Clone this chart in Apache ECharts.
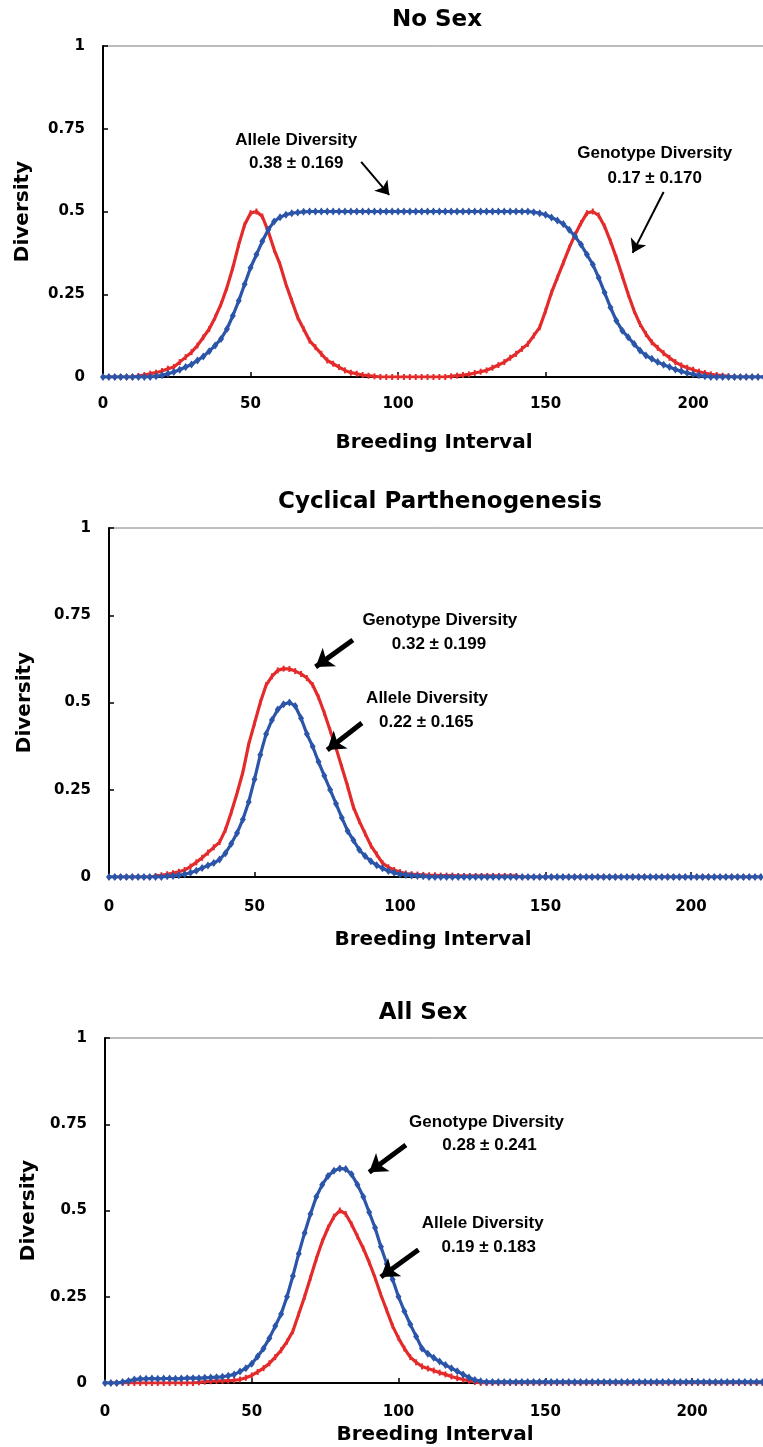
<!DOCTYPE html>
<html><head><meta charset="utf-8">
<script src="https://cdn.jsdelivr.net/npm/echarts@6/dist/echarts.min.js"></script>
<style>html,body{margin:0;padding:0;background:#fff;overflow:hidden}#c{width:763px;height:1447px}</style>
</head><body><div id="c"></div>
<script>
// ---------- DATA ----------
const xValues = [
  0,2,4,6,8,10,12,14,16,18,
  20,22,24,26,28,30,32,34,36,38,
  40,42,44,46,48,50,52,54,56,58,
  60,62,64,66,68,70,72,74,76,78,
  80,82,84,86,88,90,92,94,96,98,
  100,102,104,106,108,110,112,114,116,118,
  120,122,124,126,128,130,132,134,136,138,
  140,142,144,146,148,150,152,154,156,158,
  160,162,164,166,168,170,172,174,176,178,
  180,182,184,186,188,190,192,194,196,198,
  200,202,204,206,208,210,212,214,216,218,
  220,222,224
];
const panelTitles = ['No Sex', 'Cyclical Parthenogenesis', 'All Sex'];
const xTickValues = [0, 50, 100, 150, 200];
const yTickValues = [0, 0.25, 0.5, 0.75, 1];
const xAxisTitle = 'Breeding Interval';
const yAxisTitle = 'Diversity';

// No Sex
const noSexGenotype = [
  0,0,0,0,0,0,0.003,0.006,0.01,0.013,
  0.018,0.025,0.03,0.045,0.06,0.075,0.095,0.12,0.145,0.18,
  0.22,0.27,0.33,0.4,0.46,0.495,0.5,0.485,0.44,0.385,
  0.34,0.28,0.23,0.18,0.145,0.11,0.09,0.07,0.05,0.04,
  0.03,0.02,0.013,0.01,0.006,0.004,0.002,0,0,0,
  0,0,0,0,0,0,0,0,0,0.002,
  0.004,0.006,0.008,0.012,0.016,0.02,0.028,0.036,0.045,0.058,
  0.07,0.085,0.1,0.125,0.15,0.2,0.255,0.3,0.345,0.39,
  0.43,0.465,0.495,0.5,0.488,0.455,0.41,0.36,0.305,0.25,
  0.2,0.16,0.13,0.105,0.088,0.072,0.058,0.045,0.035,0.028,
  0.022,0.016,0.012,0.008,0.006,0.004,0.002,0,0,0,
  0,0,0
];
const noSexAllele = [
  0,0,0,0,0,0,0,0,0,0.002,
  0.005,0.01,0.015,0.022,0.03,0.038,0.05,0.062,0.078,0.095,
  0.115,0.145,0.185,0.23,0.28,0.33,0.37,0.41,0.445,0.47,
  0.483,0.49,0.495,0.497,0.499,0.5,0.5,0.5,0.5,0.5,
  0.5,0.5,0.5,0.5,0.5,0.5,0.5,0.5,0.5,0.5,
  0.5,0.5,0.5,0.5,0.5,0.5,0.5,0.5,0.5,0.5,
  0.5,0.5,0.5,0.5,0.5,0.5,0.5,0.5,0.5,0.5,
  0.5,0.5,0.5,0.498,0.495,0.49,0.482,0.473,0.462,0.445,
  0.425,0.4,0.37,0.34,0.3,0.255,0.21,0.17,0.14,0.12,
  0.1,0.08,0.065,0.055,0.045,0.037,0.03,0.023,0.017,0.012,
  0.008,0.005,0.002,0,0,0,0,0,0,0,
  0,0,0
];
// Cyclical Parthenogenesis
const cpGenotype = [
  0,0,0,0,0,0,0,0,0.003,0.005,
  0.008,0.011,0.015,0.02,0.03,0.042,0.055,0.07,0.085,0.1,
  0.135,0.185,0.24,0.3,0.38,0.44,0.5,0.55,0.575,0.592,
  0.597,0.596,0.59,0.582,0.57,0.55,0.515,0.47,0.42,0.37,
  0.315,0.26,0.2,0.16,0.125,0.09,0.065,0.04,0.028,0.02,
  0.014,0.01,0.008,0.007,0.006,0.005,0.005,0.004,0.004,0.004,
  0.003,0.003,0.003,0.003,0.003,0.003,0.003,0.003,0.003,0.003,
  0.003,0,0,0,0,0,0,0,0,0,
  0,0,0,0,0,0,0,0,0,0,
  0,0,0,0,0,0,0,0,0,0,
  0,0,0,0,0,0,0,0,0,0,
  0,0,0
];
const cpAllele = [
  0,0,0,0,0,0,0,0,0,0,
  0.002,0.003,0.005,0.008,0.012,0.018,0.026,0.033,0.04,0.05,
  0.068,0.095,0.126,0.165,0.215,0.28,0.35,0.41,0.45,0.48,
  0.495,0.5,0.49,0.455,0.41,0.374,0.33,0.29,0.25,0.21,
  0.17,0.132,0.105,0.078,0.06,0.045,0.034,0.025,0.017,0.012,
  0.008,0.006,0.004,0.003,0.002,0,0,0,0,0,
  0,0,0,0,0,0,0,0,0,0,
  0,0,0,0,0,0,0,0,0,0,
  0,0,0,0,0,0,0,0,0,0,
  0,0,0,0,0,0,0,0,0,0,
  0,0,0,0,0,0,0,0,0,0,
  0,0,0
];
// All Sex
const allSexGenotype = [
  0,0,0,0.003,0.006,0.01,0.012,0.012,0.013,0.012,
  0.013,0.013,0.012,0.013,0.014,0.014,0.014,0.015,0.016,0.017,
  0.018,0.021,0.025,0.033,0.043,0.056,0.077,0.1,0.13,0.165,
  0.2,0.25,0.31,0.375,0.435,0.49,0.54,0.575,0.6,0.615,
  0.622,0.62,0.605,0.575,0.54,0.495,0.45,0.395,0.345,0.3,
  0.25,0.208,0.17,0.135,0.1,0.085,0.073,0.062,0.052,0.043,
  0.034,0.025,0.016,0.009,0.005,0.003,0.003,0.003,0.003,0.003,
  0.003,0.003,0.003,0.003,0.003,0.003,0.003,0.003,0.003,0.003,
  0.003,0.003,0.003,0.003,0.003,0.003,0.003,0.003,0.003,0.003,
  0.003,0.003,0.003,0.003,0.003,0.003,0.003,0.003,0.003,0.003,
  0.003,0.003,0.003,0.003,0.003,0.003,0.003,0.003,0.003,0.003,
  0.003,0.003,0.003
];
const allSexAllele = [
  0,0,0,0,0,0,0,0,0,0,
  0,0,0,0,0,0,0.002,0.004,0.005,0.006,
  0.006,0.007,0.008,0.01,0.015,0.022,0.032,0.043,0.057,0.075,
  0.095,0.12,0.15,0.2,0.25,0.305,0.36,0.41,0.45,0.482,
  0.5,0.49,0.46,0.425,0.39,0.35,0.305,0.255,0.21,0.165,
  0.13,0.1,0.075,0.06,0.048,0.042,0.036,0.03,0.025,0.019,
  0.014,0.01,0.007,0.003,0,0,0,0,0,0,
  0,0,0,0,0,0,0,0,0,0,
  0,0,0,0,0,0,0,0,0,0,
  0,0,0,0,0,0,0,0,0,0,
  0,0,0,0,0,0,0,0,0,0,
  0,0,0
];

// ---------- LAYOUT / STYLE ----------
const RED = '#e42b2b', BLUE = '#2b55a8';
const panels = [
  { left:103, top:46, height:331, width:668, xMax:226.4, labelMargin:20, titleX:437, titleY:20, xNameX:434, xNameY:443, yNameX:23,
    red:{name:'Genotype Diversity', data:noSexGenotype}, blue:{name:'Allele Diversity', data:noSexAllele},
    arrowWidth:2, arrowSize:13,
    notes:[
      {x:65.5, y:0.716, text:'Allele Diversity'}, {x:65.5, y:0.647, text:'0.38 ± 0.169'},
      {x:187, y:0.677, text:'Genotype Diversity'}, {x:187, y:0.601, text:'0.17 ± 0.170'} ],
    arrows:[ [[87.5,0.65],[97,0.55]], [[190,0.559],[179.5,0.375]] ] },
  { left:109, top:528, height:349, width:662, xMax:227.5, labelMargin:23, titleX:440, titleY:502, xNameX:433, xNameY:940, yNameX:25,
    red:{name:'Genotype Diversity', data:cpGenotype}, blue:{name:'Allele Diversity', data:cpAllele},
    arrowWidth:5, arrowSize:17,
    notes:[
      {x:113.7, y:0.736, text:'Genotype Diversity'}, {x:113.4, y:0.668, text:'0.32 ± 0.199'},
      {x:109.3, y:0.513, text:'Allele Diversity'}, {x:109, y:0.444, text:'0.22 ± 0.165'} ],
    arrows:[ [[83.8,0.679],[71,0.602]], [[86.9,0.441],[75,0.364]] ] },
  { left:105, top:1038, height:345, width:666, xMax:226.9, labelMargin:22, titleX:423, titleY:1013, xNameX:435, xNameY:1435, yNameX:29,
    red:{name:'Allele Diversity', data:allSexAllele}, blue:{name:'Genotype Diversity', data:allSexGenotype},
    arrowWidth:5, arrowSize:17,
    notes:[
      {x:130, y:0.757, text:'Genotype Diversity'}, {x:131, y:0.69, text:'0.28 ± 0.241'},
      {x:128.7, y:0.464, text:'Allele Diversity'}, {x:130.7, y:0.394, text:'0.19 ± 0.183'} ],
    arrows:[ [[102.5,0.69],[90,0.611]], [[106.8,0.386],[94,0.307]] ] }
];

const TICK_FONT = 'DejaVu Sans';
const chart = echarts.init(document.getElementById('c'), null, {renderer:'canvas'});

const grid = [], xAxis = [], yAxis = [], series = [];
panels.forEach((p, i) => {
  grid.push({ left:p.left, top:p.top, height:p.height, width:p.width, outerBoundsMode:'none', containLabel:false,
    show:true, borderColor:'#7a7a7a', borderWidth:1, backgroundColor:'transparent' });
  xAxis.push({
    type:'value', gridIndex:i, min:0, max:p.xMax, interval:50,
    axisLine:{ show:true, onZero:false, lineStyle:{ color:'#000', width:2 } },
    axisTick:{ show:true, inside:true, length:5, lineStyle:{ color:'#000', width:1.5 } },
    splitLine:{ show:false },
    axisLabel:{ margin:p.labelMargin, color:'#000', fontFamily:TICK_FONT, fontWeight:'bold', fontSize:15,
      formatter: v => xTickValues.indexOf(v) >= 0 ? String(v) : '' }
  });
  yAxis.push({
    type:'value', gridIndex:i, min:0, max:1, interval:0.25,
    axisLine:{ show:true, lineStyle:{ color:'#000', width:2 } },
    axisTick:{ show:true, inside:true, length:5, lineStyle:{ color:'#000', width:1.5 } },
    splitLine:{ show:false },
    axisLabel:{ margin:18, color:'#000', fontFamily:TICK_FONT, fontWeight:'bold', fontSize:15,
      formatter: v => yTickValues.indexOf(v) >= 0 ? String(v) : '' }
  });
  series.push({
    type:'line', name:p.red.name, xAxisIndex:i, yAxisIndex:i,
    data: xValues.map((x, k) => [x, p.red.data[k]]),
    showSymbol:true, showAllSymbol:true, symbol:'rect', symbolSize:[2,6],
    itemStyle:{ color:RED }, lineStyle:{ color:RED, width:3.2 }, z:2, silent:true
  });
  series.push({
    type:'line', name:p.blue.name, xAxisIndex:i, yAxisIndex:i,
    data: xValues.map((x, k) => [x, p.blue.data[k]]),
    showSymbol:true, showAllSymbol:true, symbol:'diamond', symbolSize:[6,8],
    itemStyle:{ color:BLUE }, lineStyle:{ color:BLUE, width:3.2 }, z:3, silent:true,
    markLine:{
      silent:true, symbol:['none','arrow'], symbolSize:p.arrowSize, animation:false,
      label:{ show:false },
      lineStyle:{ color:'#000', width:p.arrowWidth, type:'solid' },
      emphasis:{ disabled:true },
      data: p.arrows.map(a => [{ coord:a[0] }, { coord:a[1] }])
    }
  });
});

chart.setOption({ animation:false, backgroundColor:'#fff', grid, xAxis, yAxis, series });

const txt = (x, y, text, font, rot) => ({
  type:'text', x, y, rotation: rot || 0, silent:true, z:100,
  style:{ text, font, fill:'#000', textAlign:'center', textVerticalAlign:'middle', align:'center', verticalAlign:'middle' }
});
const graphic = [];
panels.forEach((p, i) => {
  graphic.push(txt(p.titleX, p.titleY, panelTitles[i], 'bold 23px "DejaVu Sans"'));
  graphic.push(txt(p.xNameX, p.xNameY, xAxisTitle, 'bold 20px "DejaVu Sans"'));
  graphic.push(txt(p.yNameX, p.top + p.height / 2, yAxisTitle, 'bold 20px "DejaVu Sans"', Math.PI / 2));
  p.notes.forEach(n => {
    const pt = chart.convertToPixel({ gridIndex:i }, [n.x, n.y]);
    graphic.push(txt(pt[0], pt[1], n.text, 'bold 17px "Liberation Sans"'));
  });
});
chart.setOption({ graphic });
</script>
</body></html>
